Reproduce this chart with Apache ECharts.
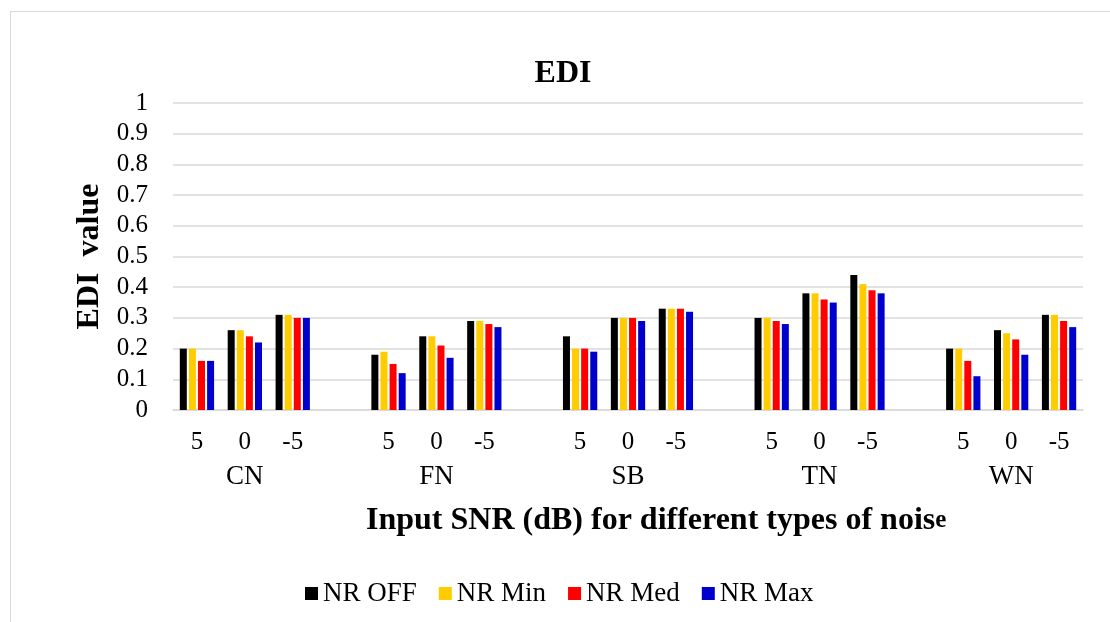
<!DOCTYPE html>
<html>
<head>
<meta charset="utf-8">
<script src="https://cdn.jsdelivr.net/npm/echarts@6/dist/echarts.min.js"></script>
<style>
html,body{margin:0;padding:0;background:#fff;}
#frame{position:absolute;left:10px;top:11px;width:1110px;height:620px;border:1px solid #d9d9d9;box-sizing:border-box;}
#chart{position:absolute;left:0;top:0;width:1110px;height:622px;}
</style>
</head>
<body>
<div id="frame"></div>
<div id="chart"></div>
<script>
const noiseTypes = ['CN', 'FN', 'SB', 'TN', 'WN'];
const snrLabels = ['5', '0', '-5'];
const seriesNames = ['NR OFF', 'NR Min', 'NR Med', 'NR Max'];
const seriesColors = ['#000000', '#FFCC00', '#FF0000', '#0000CC'];
// values per noise type in order 5, 0, -5
const nrOff = [0.20, 0.26, 0.31,  0.18, 0.24, 0.29,  0.24, 0.30, 0.33,  0.30, 0.38, 0.44,  0.20, 0.26, 0.31];
const nrMin = [0.20, 0.26, 0.31,  0.19, 0.24, 0.29,  0.20, 0.30, 0.33,  0.30, 0.38, 0.41,  0.20, 0.25, 0.31];
const nrMed = [0.16, 0.24, 0.30,  0.15, 0.21, 0.28,  0.20, 0.30, 0.33,  0.29, 0.36, 0.39,  0.16, 0.23, 0.29];
const nrMax = [0.16, 0.22, 0.30,  0.12, 0.17, 0.27,  0.19, 0.29, 0.32,  0.28, 0.35, 0.38,  0.11, 0.18, 0.27];
const yTicks = ['0', '0.1', '0.2', '0.3', '0.4', '0.5', '0.6', '0.7', '0.8', '0.9', '1'];

// build categories with an empty spacer between noise types
const cats = [], groupCats = [], idxMap = [];
noiseTypes.forEach((g, gi) => {
  snrLabels.forEach((s, si) => {
    cats.push(s);
    groupCats.push(si === 1 ? g : '');
    idxMap.push(gi * snrLabels.length + si);
  });
  if (gi < noiseTypes.length - 1) { cats.push(''); groupCats.push(''); idxMap.push(-1); }
});
function expand(arr) { return idxMap.map(i => i < 0 ? null : arr[i]); }
const allVals = [nrOff, nrMin, nrMed, nrMax];

const font = 'Liberation Serif, Times New Roman, serif';
const chart = echarts.init(document.getElementById('chart'));
chart.setOption({
  animation: false,
  textStyle: { fontFamily: font },
  legend: {
    data: seriesNames, left: 300, top: 575,
    itemWidth: 13, itemHeight: 13, itemGap: 22, icon: 'rect',
    textStyle: { fontFamily: font, fontSize: 27, color: '#000' }
  },
  grid: { left: 173, right: 27, top: 103, bottom: 212 },
  xAxis: [{
    type: 'category', data: cats,
    axisLine: { lineStyle: { color: '#d9d9d9', width: 1.5 } },
    axisTick: { show: false },
    axisLabel: { interval: 0, fontFamily: font, fontSize: 25, color: '#000', margin: 20 }
  }, {
    type: 'category', data: groupCats, position: 'bottom', offset: 33,
    axisLine: { show: false }, axisTick: { show: false },
    axisLabel: { interval: 0, fontFamily: font, fontSize: 27, color: '#000', margin: 20 }
  }],
  yAxis: {
    type: 'value', min: 0, max: 1, interval: 0.1,
    name: 'EDI  value', nameLocation: 'middle', nameGap: 63, nameRotate: 90,
    nameTextStyle: { fontFamily: font, fontSize: 32, fontWeight: 'bold', color: '#000' },
    axisLine: { show: false }, axisTick: { show: false },
    splitLine: { lineStyle: { color: '#d9d9d9', width: 1.5 } },
    axisLabel: { fontFamily: font, fontSize: 25, color: '#000', margin: 25,
      formatter: v => yTicks[Math.round(v * 10)] }
  },
  graphic: [{
    type: 'text', x: 563, y: 74,
    style: {
      text: 'EDI', align: 'center', verticalAlign: 'middle',
      font: 'bold 32px ' + font, fill: '#000'
    }
  }, {
    type: 'text', x: 366, y: 521,
    style: {
      text: '{a|Input SNR (dB) for different types of nois}{b|e}',
      verticalAlign: 'middle',
      rich: {
        a: { fontFamily: font, fontSize: 32, fontWeight: 'bold', fill: '#000' },
        b: { fontFamily: font, fontSize: 25, fontWeight: 'bold', fill: '#000', verticalAlign: 'bottom', padding: [0, 0, 4, 0] }
      }
    }
  }],
  series: seriesNames.map((n, i) => ({
    name: n, type: 'bar', xAxisIndex: 0,
    data: expand(allVals[i]),
    barWidth: 7, barGap: '30%',
    itemStyle: { color: seriesColors[i] }
  }))
});
</script>
</body>
</html>
